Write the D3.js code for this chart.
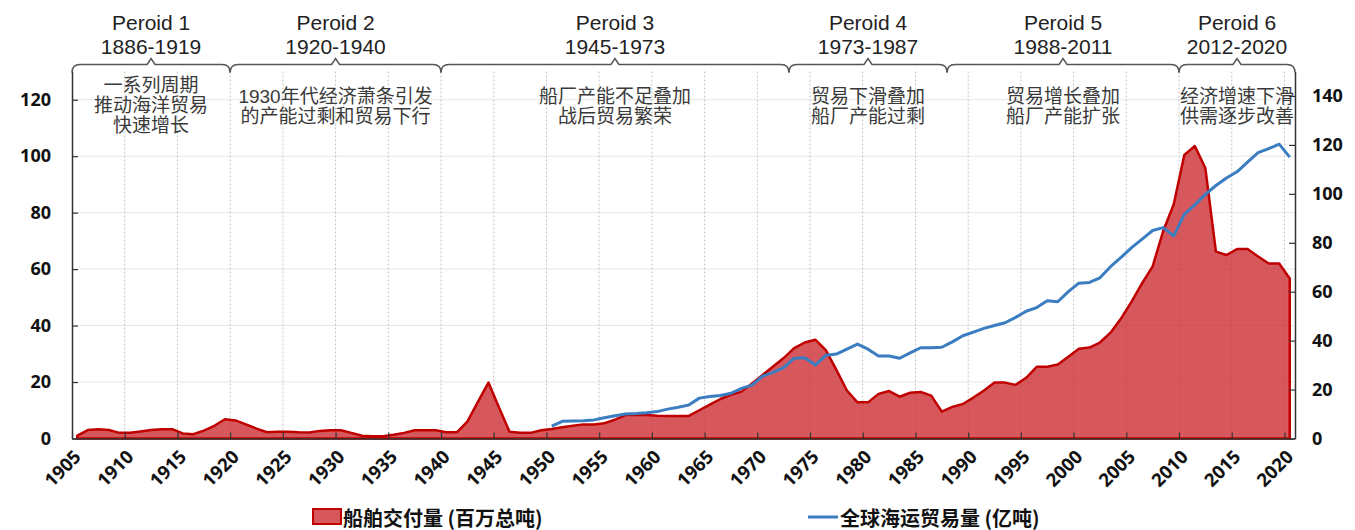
<!DOCTYPE html>
<html>
<head>
<meta charset="utf-8">
<script src="https://cdn.jsdelivr.net/npm/d3@7"></script>
<style>
  body { margin: 0; background: #fff; }
  svg { display: block; font-family: "Noto Sans CJK SC", "Open Sans", sans-serif; }
</style>
</head>
<body>
<svg id="chart"></svg>
<script>
// 船舶交付量（百万总吨），1905-2020
const deliveryStart = 1905;
const deliveries = [
  1.0, 3.0, 3.3, 3.0, 2.0, 2.0, 2.5, 3.0, 3.3, 3.3,
  1.8, 1.5, 2.8, 4.5, 6.8, 6.4, 5.0, 3.5, 2.2, 2.4,
  2.4, 2.2, 2.1, 2.7, 2.9, 2.9, 2.0, 1.0, 0.8, 0.8,
  1.3, 2.0, 2.9, 2.9, 2.9, 2.2, 2.2, 6.0, 13.0, 19.8,
  11.0, 2.4, 2.0, 2.0, 2.9, 3.4, 4.0, 4.5, 5.0, 5.0,
  5.4, 6.7, 8.3, 8.4, 8.3, 8.1, 8.0, 8.0, 8.0, 10.0,
  12.0, 14.0, 15.5, 16.6, 19.5, 22.5, 25.5, 28.5, 32.0, 34.0,
  35.0, 31.3, 24.3, 17.0, 12.8, 12.8, 15.8, 16.8, 14.8, 16.2,
  16.5, 15.2, 9.5, 11.2, 12.2, 14.5, 17.0, 19.8, 19.8, 19.0,
  21.5, 25.4, 25.4, 26.2, 29.0, 31.8, 32.2, 34.0, 37.5, 42.5,
  48.5, 55.0, 61.0, 73.5, 83.0, 100.4, 103.6, 95.7, 66.2, 65.0,
  67.1, 67.1, 64.5, 62.0, 62.0, 56.7
];

// 全球海运贸易量（亿吨），1950-2020
const tradeStart = 1950;
const trade = [
  5.1, 7.0, 7.2, 7.3, 7.6, 8.5, 9.3, 10.0, 10.2, 10.5,
  11.0, 12.0, 12.8, 13.7, 16.5, 17.2, 17.6, 18.5, 20.5, 21.8,
  25.5, 27.0, 29.0, 32.8, 33.0, 30.0, 34.0, 34.5, 36.5, 38.6,
  36.5, 33.7, 33.7, 32.8, 35.0, 37.1, 37.1, 37.3, 39.5, 42.0,
  43.5, 45.0, 46.2, 47.3, 49.5, 52.0, 53.5, 56.3, 55.9, 60.0,
  63.5, 63.8, 65.7, 70.2, 74.0, 78.0, 81.5, 85.0, 86.2, 82.8,
  91.6, 95.5, 99.8, 103.4, 106.5, 109.0, 113.0, 116.8, 118.5, 120.3,
  115.0
];

// 刻度
const xTicks = [1905, 1910, 1915, 1920, 1925, 1930, 1935, 1940, 1945, 1950, 1955, 1960,
  1965, 1970, 1975, 1980, 1985, 1990, 1995, 2000, 2005, 2010, 2015, 2020];
const leftTicks = [0, 20, 40, 60, 80, 100, 120];
const rightTicks = [0, 20, 40, 60, 80, 100, 120, 140];

// 阶段划分
const periodNames = ["Peroid 1", "Peroid 2", "Peroid 3", "Peroid 4", "Peroid 5", "Peroid 6"];
const periodSpans = ["1886-1919", "1920-1940", "1945-1973", "1973-1987", "1988-2011", "2012-2020"];
const periodBounds = [1905, 1920, 1940, 1973, 1988, 2010, 2021];
const periodNotes = [
  ["一系列周期", "推动海洋贸易", "快速增长"],
  ["1930年代经济萧条引发", "的产能过剩和贸易下行"],
  ["船厂产能不足叠加", "战后贸易繁荣"],
  ["贸易下滑叠加", "船厂产能过剩"],
  ["贸易增长叠加", "船厂产能扩张"],
  ["经济增速下滑", "供需逐步改善"]
];

const legendLabels = ["船舶交付量 (百万总吨)", "全球海运贸易量 (亿吨)"];

const width = 1355, height = 530;
const margin = { top: 71.5, right: 60, bottom: 91.5, left: 72 };
const innerW = width - margin.left - margin.right;
const innerH = height - margin.top - margin.bottom;

const svg = d3.select("#chart").attr("width", width).attr("height", height);
const g = svg.append("g").attr("transform", `translate(${margin.left},${margin.top})`);

const x = d3.scaleLinear().domain([1905, 2021]).range([0, innerW]);
const yL = d3.scaleLinear().domain([0, 130]).range([innerH, 0]);
const yR = d3.scaleLinear().domain([0, 150]).range([innerH, 0]);

const redData = deliveries.map((v, i) => ({ year: deliveryStart + i, v }));
const blueData = trade.map((v, i) => ({ year: tradeStart + i, v }));

// 网格
g.append("g").selectAll("line").data(leftTicks.slice(1)).join("line")
  .attr("x1", 0).attr("x2", innerW)
  .attr("y1", d => yL(d)).attr("y2", d => yL(d))
  .attr("stroke", "#e6e6e6").attr("stroke-width", 1);
g.append("g").selectAll("line").data(xTicks.slice(1)).join("line")
  .attr("x1", d => x(d)).attr("x2", d => x(d))
  .attr("y1", 0).attr("y2", innerH)
  .attr("stroke", "#c4c4c4").attr("stroke-width", 1).attr("stroke-dasharray", "2,2");

// 面积
const area = d3.area()
  .x(d => x(d.year + 0.5))
  .y0(innerH)
  .y1(d => yL(d.v));
g.append("path").datum(redData)
  .attr("d", area)
  .attr("fill", "rgb(204,46,51)").attr("fill-opacity", 0.8)
  .attr("stroke", "#c00000").attr("stroke-width", 2.5).attr("stroke-linejoin", "round");

// 折线
const line = d3.line().x(d => x(d.year + 0.5)).y(d => yR(d.v));
g.append("path").datum(blueData)
  .attr("d", line)
  .attr("fill", "none").attr("stroke", "#3b7dc1").attr("stroke-width", 3).attr("stroke-linejoin", "round");

// 坐标轴
function styleAxis(sel) {
  sel.select(".domain").attr("stroke", "#333").attr("stroke-width", 1.5);
  sel.selectAll(".tick line").attr("stroke", "#333").attr("stroke-width", 1.2);
  sel.selectAll("text").attr("font-family", "'Open Sans', sans-serif")
    .attr("font-weight", 700).attr("font-size", 18).attr("fill", "#111");
}
const xAxis = g.append("g").attr("transform", `translate(0,${innerH})`)
  .call(d3.axisBottom(x).tickValues(xTicks).tickSize(-6).tickSizeOuter(0).tickFormat(d3.format("d")));
styleAxis(xAxis);
xAxis.selectAll("text")
  .attr("font-size", 18.5)
  .attr("x", 0).attr("y", 0).attr("dy", "0.35em")
  .attr("text-anchor", "end")
  .attr("transform", "translate(5,15) rotate(-45)");

const leftAxis = g.append("g")
  .call(d3.axisLeft(yL).tickValues(leftTicks).tickSize(-6).tickSizeOuter(0).tickPadding(21));
styleAxis(leftAxis);

const rightAxis = g.append("g").attr("transform", `translate(${innerW},0)`)
  .call(d3.axisRight(yR).tickValues(rightTicks).tickSize(-6).tickSizeOuter(0).tickPadding(17));
styleAxis(rightAxis);

// 花括号与阶段标注（行距紧凑，主字体用 Liberation Sans 以收窄行框）
const labelFont = "'Liberation Sans', 'Noto Sans CJK SC', sans-serif";
const braceY = -7, curl = 8, bump = 6;
periodNames.forEach((name, i) => {
  const x0 = x(periodBounds[i]), x1 = x(periodBounds[i + 1]);
  const xm = (x0 + x1) / 2;
  const p = d3.path();
  p.moveTo(x0, braceY + curl);
  p.quadraticCurveTo(x0, braceY, x0 + curl, braceY);
  p.lineTo(xm - 4, braceY);
  p.lineTo(xm, braceY - bump);
  p.lineTo(xm + 4, braceY);
  p.lineTo(x1 - curl, braceY);
  p.quadraticCurveTo(x1, braceY, x1, braceY + curl);
  g.append("path").attr("d", p.toString())
    .attr("fill", "none").attr("stroke", "#555").attr("stroke-width", 1.5);

  const head = g.append("text").attr("x", xm).attr("y", 22 - margin.top)
    .attr("text-anchor", "middle").attr("dominant-baseline", "central")
    .attr("font-family", labelFont)
    .attr("font-size", 21).attr("fill", "#222");
  head.append("tspan").attr("x", xm).attr("dy", 0).text(name);
  head.append("tspan").attr("x", xm).attr("dy", 24).text(periodSpans[i]);

  const notes = periodNotes[i];
  const top = notes.length === 3 ? 85 : 96;
  const note = g.append("text").attr("x", xm).attr("y", top - margin.top)
    .attr("text-anchor", "middle").attr("dominant-baseline", "central")
    .attr("font-family", labelFont)
    .attr("font-size", 19).attr("fill", "#3a3a3a");
  notes.forEach((t, j) => {
    note.append("tspan").attr("x", xm).attr("dy", j === 0 ? 0 : 20).text(t);
  });
});

// 图例
const legend = svg.append("g");
legend.append("rect").attr("x", 313).attr("y", 509).attr("width", 28).attr("height", 15)
  .attr("fill", "rgb(204,46,51)").attr("fill-opacity", 0.8)
  .attr("stroke", "#c00000").attr("stroke-width", 2);
legend.append("text").attr("x", 343).attr("y", 517).attr("dominant-baseline", "central")
  .attr("font-size", 20).attr("font-weight", 700).attr("fill", "#111").text(legendLabels[0]);
legend.append("line").attr("x1", 808).attr("x2", 838).attr("y1", 517).attr("y2", 517)
  .attr("stroke", "#3b7dc1").attr("stroke-width", 3);
legend.append("text").attr("x", 840).attr("y", 517).attr("dominant-baseline", "central")
  .attr("font-size", 20).attr("font-weight", 700).attr("fill", "#111").text(legendLabels[1]);
</script>
</body>
</html>
